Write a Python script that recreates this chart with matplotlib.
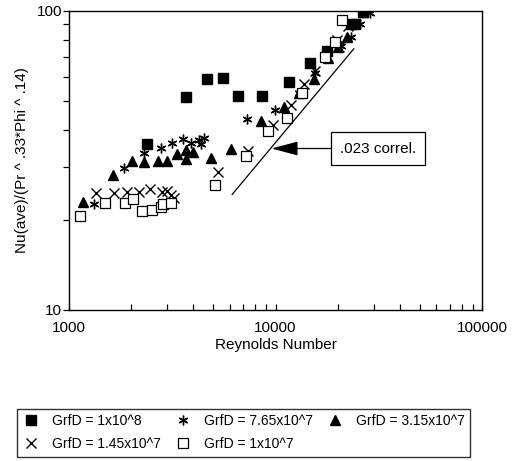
import numpy as np
import matplotlib
matplotlib.use("Agg")
import matplotlib.pyplot as plt

plt.rcParams['font.family'] = ['Liberation Sans', 'DejaVu Sans']

#
# Data (Re, Nu/(Pr^.33*Phi^.14))
#
re_1e8 = [2380, 3670, 4670, 5560, 6580, 8590, 11650, 14720, 17700, 23300, 24300, 26550]
nu_1e8 = [35.9, 51.3, 58.9, 59.7, 52.0, 51.7, 57.6, 66.7, 73.5, 90.0, 90.0, 99.2]

re_765e7 = [1330, 1850, 2310, 2790, 3170, 3550, 3880, 4270, 4360, 4530, 7240, 9930,
            12970, 15510, 17780, 20690, 23300, 25760, 28550]
nu_765e7 = [22.6, 29.7, 33.5, 34.8, 36.0, 37.2, 36.2, 36.9, 35.8, 37.5, 43.4, 46.4,
            53.2, 62.1, 69.9, 76.2, 81.9, 90.0, 98.5]

re_315e7 = [1170, 1630, 2020, 2320, 2700, 3000, 3340, 3680, 3670, 3970, 4900, 6120,
            8550, 10970, 12970, 15330, 17960, 20170, 22070, 26550]
nu_315e7 = [22.9, 28.3, 31.5, 31.2, 31.4, 31.5, 33.2, 34.1, 32.0, 33.8, 32.2, 34.6,
            42.7, 47.8, 52.9, 59.1, 69.3, 75.8, 81.4, 99.0]

re_145e7 = [1360, 1660, 1920, 2190, 2480, 2820, 3000, 3130, 3220, 5260, 7350, 9750,
            11860, 13810, 15510, 19800, 20350, 22480]
nu_145e7 = [24.5, 24.6, 24.8, 24.7, 25.4, 24.8, 25.0, 24.2, 23.7, 28.9, 34.0, 41.6,
            48.5, 56.7, 62.6, 79.8, 75.8, 88.8]

re_1e7 = [1135, 1500, 1870, 2040, 2270, 2530, 2790, 2870, 3130, 5090, 7160, 9150,
          11380, 13500, 17360, 19330, 20880]
nu_1e7 = [20.6, 22.7, 22.7, 23.5, 21.4, 21.5, 22.1, 22.5, 22.8, 26.2, 32.6, 39.6,
          43.7, 53.1, 69.9, 78.8, 93.1]

# .023 correlation line end points
re_corr = [6170, 23930]
nu_corr = [24.3, 74.5]

labels = ["GrfD = 1x10^8", "GrfD = 7.65x10^7", "GrfD = 3.15x10^7",
          "GrfD = 1.45x10^7", "GrfD = 1x10^7"]

fig = plt.figure(figsize=(5.14, 4.61), dpi=100)
ax = fig.add_axes([0.134, 0.328, 0.804, 0.649])

h1, = ax.plot(re_1e8, nu_1e8, 's', color='black', ms=6.5, ls='none')
h2, = ax.plot(re_765e7, nu_765e7, marker=(6, 2, 0), color='black', ms=7, mew=1.0, ls='none')
h3, = ax.plot(re_315e7, nu_315e7, '^', color='black', ms=6.5, ls='none')
h4, = ax.plot(re_145e7, nu_145e7, 'x', color='black', ms=7, mew=1.0, ls='none')
h5, = ax.plot(re_1e7, nu_1e7, 's', mfc='white', mec='black', ms=6.5, mew=0.9, ls='none')
ax.plot(re_corr, nu_corr, '-', color='black', lw=0.9)

ax.annotate(".023 correl.", xy=(9570, 34.6), xytext=(31400, 34.6),
            ha='center', va='center', fontsize=11,
            bbox=dict(boxstyle='square,pad=0.6', fc='white', ec='black', lw=0.9),
            arrowprops=dict(arrowstyle='-|>,head_length=1.5,head_width=0.4',
                            color='black', lw=0.9, shrinkA=0, shrinkB=0))

ax.set_xscale('log')
ax.set_yscale('log')
ax.set_xlim(1000, 100000)
ax.set_ylim(10, 100)
ax.set_xticks([1000, 10000, 100000])
ax.set_xticklabels(['1000', '10000', '100000'])
ax.set_yticks([10, 100])
ax.set_yticklabels(['10', '100'])
ax.yaxis.set_minor_formatter(plt.NullFormatter())
ax.xaxis.set_minor_formatter(plt.NullFormatter())
ax.tick_params(axis='x', which='both', direction='in', length=4, width=0.9,
               labelsize=11, pad=8)
ax.tick_params(axis='y', which='both', direction='out', length=4, width=0.9,
               labelsize=11, pad=1)
for sp in ax.spines.values():
    sp.set_linewidth(1.0)

ax.set_xlabel('Reynolds Number', fontsize=11, labelpad=2)
ax.set_ylabel('Nu(ave)/(Pr ^ .33*Phi ^ .14)', fontsize=11, labelpad=5)

leg = fig.legend([h1, h4, h2, h5, h3],
                 [labels[0], labels[3], labels[1], labels[4], labels[2]],
                 ncol=3, loc='lower left', bbox_to_anchor=(0.033, 0.009),
                 borderaxespad=0, frameon=True, fancybox=False,
                 fontsize=10, handlelength=1.2, handletextpad=0.9, columnspacing=1.0,
                 labelspacing=0.65, borderpad=0.4)
leg.get_frame().set_edgecolor('black')
leg.get_frame().set_linewidth(1.0)

fig.savefig('out.png', dpi=100)
